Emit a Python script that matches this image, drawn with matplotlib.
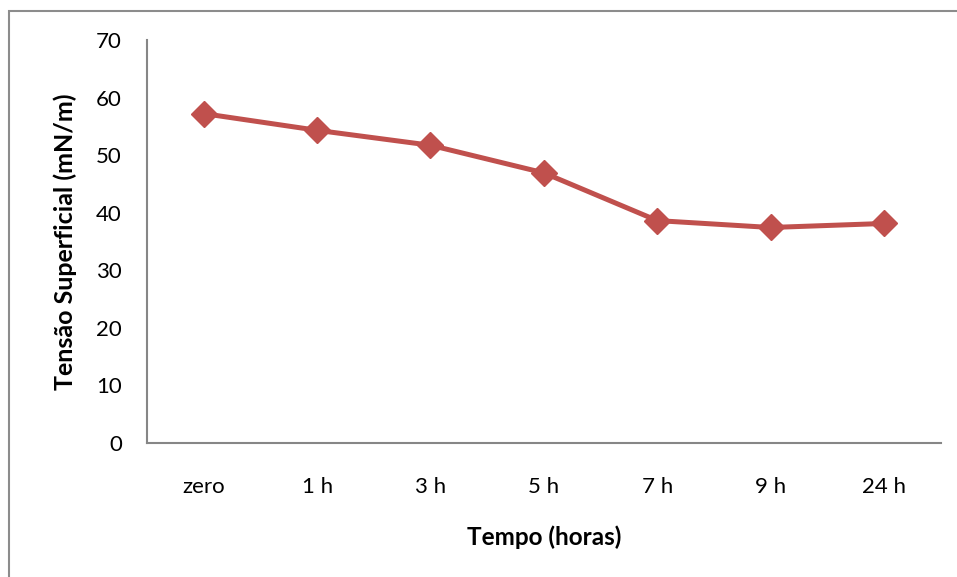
import matplotlib
matplotlib.use("Agg")
import matplotlib.pyplot as plt
from matplotlib.patches import Rectangle

plt.rcParams['font.family'] = ['Lato', 'DejaVu Sans']

categories = ["zero", "1 h", "3 h", "5 h", "7 h", "9 h", "24 h"]
tension = [57.2, 54.3, 51.7, 46.9, 38.6, 37.4, 38.1]
y_ticks = [0, 10, 20, 30, 40, 50, 60, 70]

W, H = 957, 577
fig = plt.figure(figsize=(W / 100, H / 100), dpi=100)
fig.patch.set_facecolor("white")

# chart-area frame (top and left edges visible)
fig.patches.append(Rectangle((9 / W, -0.1), 1.2, (H - 11) / H + 0.1,
                             transform=fig.transFigure, fill=False,
                             edgecolor="#8c8c8c", linewidth=1.5))

ax = fig.add_axes([147 / W, (H - 442.6) / H, (940.7 - 147) / W, (442.6 - 40) / H])
x = [i + 0.5 for i in range(len(categories))]
ax.plot(x, tension, color="#C0504D", linewidth=3.6, marker="D",
        markersize=13, markeredgecolor="#C0504D", markerfacecolor="#C0504D",
        solid_joinstyle="round")

ax.set_xlim(0, len(categories))
ax.set_ylim(0, 70)
ax.set_yticks(y_ticks)
ax.set_yticklabels([str(v) for v in y_ticks], fontsize=16)
ax.set_xticks(x)
ax.set_xticklabels(categories, fontsize=16)
ax.tick_params(axis="both", length=0, colors="black")
ax.tick_params(axis="y", pad=18)
ax.tick_params(axis="x", pad=25)

for s in ["top", "right"]:
    ax.spines[s].set_visible(False)
for s in ["left", "bottom"]:
    ax.spines[s].set_color("#868686")
    ax.spines[s].set_linewidth(1.5)

ax.set_ylabel("Tensão Superficial (mN/m)", fontsize=18, fontweight="bold", labelpad=14)
ax.set_xlabel("Tempo (horas)", fontsize=17.5, fontweight="bold", labelpad=20)

fig.savefig("out.png", dpi=100)
